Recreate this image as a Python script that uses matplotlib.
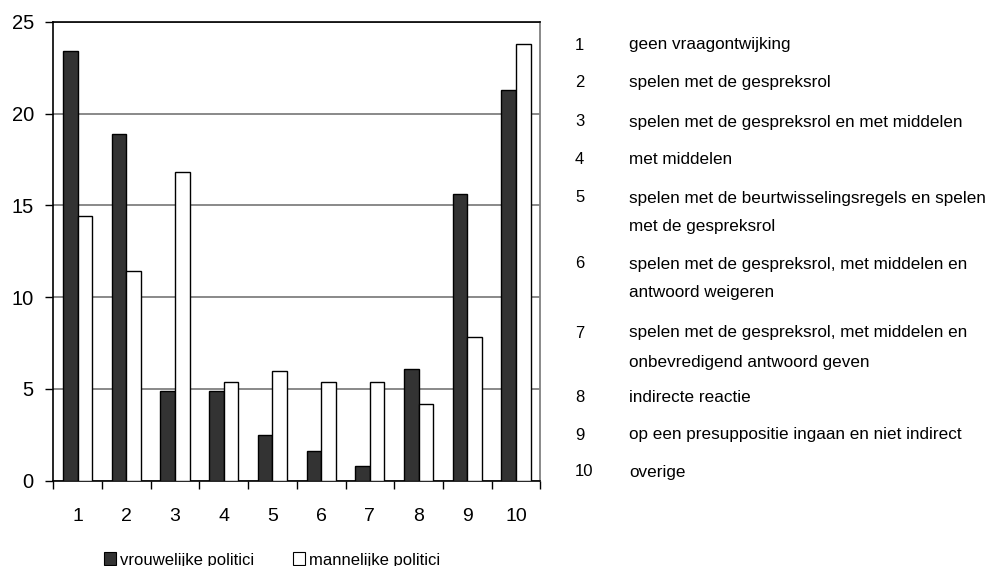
import matplotlib
matplotlib.use("Agg")
import matplotlib.pyplot as plt
from matplotlib.patches import Patch
import numpy as np

categories = ["1", "2", "3", "4", "5", "6", "7", "8", "9", "10"]
vrouwelijk = [23.4, 18.9, 4.9, 4.9, 2.5, 1.6, 0.8, 6.1, 15.6, 21.3]
mannelijk = [14.4, 11.4, 16.8, 5.4, 6.0, 5.4, 5.4, 4.2, 7.8, 23.8]
y_ticks = [0, 5, 10, 15, 20, 25]
series_labels = ["vrouwelijke politici", "mannelijke politici"]
key_numbers = ["1", "2", "3", "4", "5", "6", "7", "8", "9", "10"]
key_texts = [
    "geen vraagontwijking",
    "spelen met de gespreksrol",
    "spelen met de gespreksrol en met middelen",
    "met middelen",
    "spelen met de beurtwisselingsregels en spelen\nmet de gespreksrol",
    "spelen met de gespreksrol, met middelen en\nantwoord weigeren",
    "spelen met de gespreksrol, met middelen en\nonbevredigend antwoord geven",
    "indirecte reactie",
    "op een presuppositie ingaan en niet indirect",
    "overige",
]
key_y = [45, 83, 122, 159, 198, 264, 333, 397, 435, 472]

plt.rcParams['font.family'] = ['Liberation Sans', 'DejaVu Sans']

W, H = 997, 566
fig = plt.figure(figsize=(W / 100, H / 100), dpi=100)
ax = fig.add_axes([53.3 / W, 1 - 480.7 / H, (540.3 - 53.3) / W, (480.7 - 21.7) / H])

x = np.arange(len(categories))
bw = 0.3
ax.bar(x - bw / 2, vrouwelijk, width=bw, color="#333333", edgecolor="black", linewidth=1, zorder=3)
ax.bar(x + bw / 2, mannelijk, width=bw, color="white", edgecolor="black", linewidth=1, zorder=3)

ax.set_xlim(-0.5, len(categories) - 0.5)
ax.set_ylim(0, 25)
ax.set_yticks(y_ticks)
ax.set_yticklabels([str(t) for t in y_ticks], fontsize=14.5)
ax.yaxis.grid(True, color="#808080", linewidth=1.3, zorder=0)
ax.set_axisbelow(True)

ax.set_xticks(np.arange(-0.5, len(categories), 1.0))
ax.set_xticklabels([])
ax.set_xticks(x, minor=True)
ax.set_xticklabels(categories, minor=True, fontsize=14)
ax.tick_params(axis="x", which="minor", length=0, pad=20)
ax.tick_params(axis="x", which="major", length=6, width=1, direction="out", color="black")
ax.tick_params(axis="y", length=6, width=1, direction="out", pad=8)

for s in ["left", "bottom", "top"]:
    ax.spines[s].set_color("black")
    ax.spines[s].set_linewidth(1.2)
ax.spines["right"].set_color("#808080")
ax.spines["right"].set_linewidth(1.3)

handles = [Patch(facecolor="#333333", edgecolor="black", linewidth=0.8),
           Patch(facecolor="white", edgecolor="black", linewidth=0.8)]
fig.legend(handles, series_labels, loc="center", bbox_to_anchor=(272 / W, 1 - 560 / H),
           ncol=2, frameon=False, fontsize=12, handlelength=0.75, handleheight=0.8,
           handletextpad=0.25, columnspacing=2.3, borderpad=0)

line_gap = 29
for num, txt, yy in zip(key_numbers, key_texts, key_y):
    fig.text(575 / W, 1 - yy / H, num, fontsize=12, va="center", ha="left")
    for k, line in enumerate(txt.split("\n")):
        fig.text(629 / W, 1 - (yy + k * line_gap) / H, line, fontsize=12.3,
                 va="center", ha="left")

fig.savefig("out.png", dpi=100)
